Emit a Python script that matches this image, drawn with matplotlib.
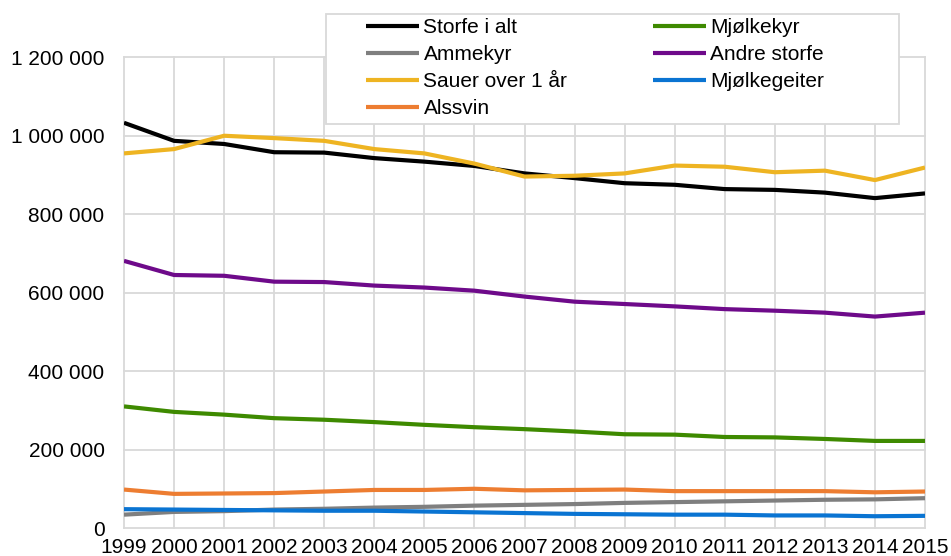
import matplotlib
matplotlib.use("Agg")
import matplotlib.pyplot as plt
from matplotlib.ticker import FuncFormatter, MultipleLocator
from matplotlib.patches import Rectangle

plt.rcParams['font.family'] = ['Liberation Sans', 'DejaVu Sans']

years = list(range(1999, 2016))

storfe_i_alt = [1033000, 987000, 979000, 958000, 957000, 943000, 934000, 923000,
                904000, 892000, 879000, 875000, 864000, 862000, 855000, 841000, 853000]
mjolkekyr = [310000, 296000, 289000, 280000, 276000, 270000, 263000, 257000,
             252000, 246000, 239000, 238000, 232000, 231000, 227000, 222000, 222000]
ammekyr = [34000, 41000, 43000, 47000, 49000, 52000, 54000, 57000,
           59000, 61000, 64000, 66000, 68000, 70000, 72000, 73000, 76000]
andre_storfe = [681000, 645000, 643000, 628000, 627000, 618000, 613000, 605000,
                590000, 577000, 571000, 565000, 558000, 554000, 549000, 539000, 549000]
sauer = [955000, 966000, 1000000, 994000, 987000, 966000, 955000, 929000,
         896000, 898000, 904000, 924000, 921000, 907000, 911000, 887000, 919000]
mjolkegeiter = [48000, 47000, 46000, 45000, 44000, 44000, 42000, 40000,
                38000, 36000, 35000, 34000, 34000, 32000, 32000, 30000, 31000]
alssvin = [98000, 87000, 88000, 89000, 93000, 97000, 97000, 100000,
           96000, 97000, 98000, 94000, 94000, 94000, 94000, 91000, 93000]

series = [
    ("Storfe i alt", storfe_i_alt, "#000000"),
    ("Mjølkekyr", mjolkekyr, "#3E8A00"),
    ("Ammekyr", ammekyr, "#7F7F7F"),
    ("Andre storfe", andre_storfe, "#6E0A8A"),
    ("Sauer over 1 år", sauer, "#EEB422"),
    ("Mjølkegeiter", mjolkegeiter, "#0A74D2"),
    ("Alssvin", alssvin, "#ED7D31"),
]
legend_order = ["Storfe i alt", "Ammekyr", "Sauer over 1 år", "Alssvin",
                "Mjølkekyr", "Andre storfe", "Mjølkegeiter"]

FS = 15

fig = plt.figure(figsize=(9.51, 5.56), dpi=100)
ax = fig.add_axes([124 / 951, 1 - 528 / 556, (925 - 124) / 951, (528 - 57.3) / 556])

handles = {}
for name, vals, col in series:
    ln, = ax.plot(years, vals, color=col, lw=3.0, solid_capstyle='butt', zorder=3)
    handles[name] = ln

ax.set_xlim(1999, 2015)
ax.set_ylim(0, 1200000)
ax.xaxis.set_major_locator(MultipleLocator(1))
ax.yaxis.set_major_locator(MultipleLocator(200000))
ax.yaxis.set_major_formatter(FuncFormatter(lambda v, p: f"{v:,.0f}".replace(",", " ")))
ax.grid(True, color="#d9d9d9", lw=1.3, zorder=0)
for gl in ax.get_xgridlines() + ax.get_ygridlines():
    gl.set_clip_on(False)
for s in ax.spines.values():
    s.set_visible(False)
ax.tick_params(axis='both', length=0, labelsize=FS, colors="#000000")
ax.tick_params(axis='y', pad=14)
ax.tick_params(axis='x', pad=7)

# legend frame
fig.patches.append(Rectangle((326 / 951, 1 - 124 / 556), (899 - 326) / 951, (124 - 14) / 556,
                             transform=fig.transFigure, facecolor='white',
                             edgecolor='#d9d9d9', lw=1.3, zorder=5))
leg = fig.legend([handles[n] for n in legend_order], legend_order, ncol=2,
                 loc='upper left', bbox_to_anchor=(362 / 951, 1 - 14 / 556),
                 frameon=False, fontsize=FS, handlelength=2.55, handletextpad=0.2,
                 columnspacing=4.1, labelspacing=0.385, borderpad=0.2, borderaxespad=0)
leg.set_zorder(6)
for h in leg.legend_handles:
    h.set_linewidth(3.0)

fig.savefig("out.png", dpi=100)
